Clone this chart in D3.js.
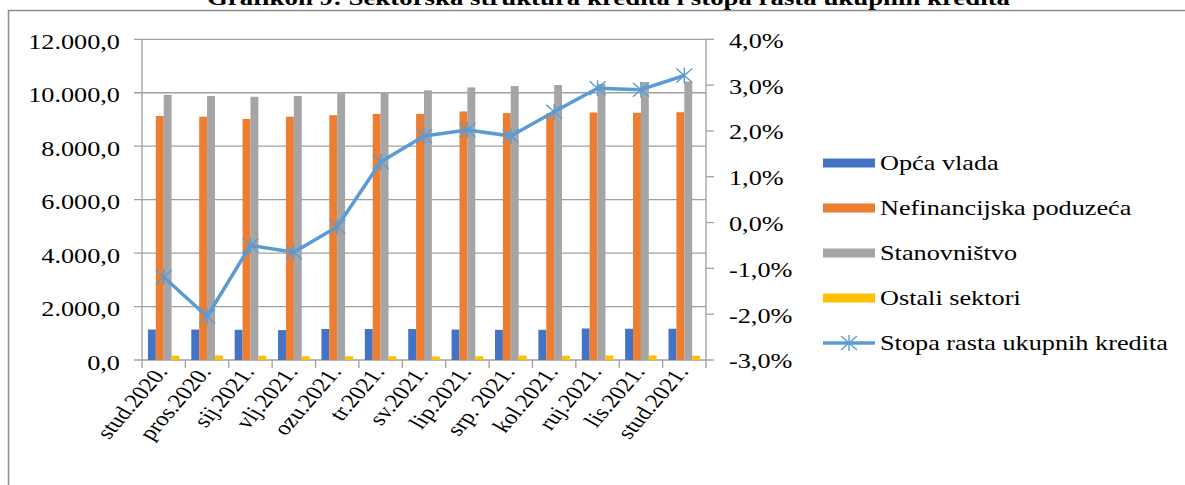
<!DOCTYPE html>
<html>
<head>
<meta charset="utf-8">
<script src="https://cdn.jsdelivr.net/npm/d3@7"></script>
<style>
  body { margin: 0; background: #fff; }
  text { font-family: "Liberation Serif", "Times New Roman", serif; fill: #000; }
</style>
</head>
<body>
<div id="chart"></div>
<script>
// data
var categories = ["stud.2020.", "pros.2020.", "sij.2021.", "vlj.2021.", "ozu.2021.", "tr.2021.", "sv.2021.",
	"lip.2021.", "srp. 2021.", "kol.2021.", "ruj.2021.", "lis.2021.", "stud.2021."];
var opcaVlada = [1140, 1140, 1130, 1120, 1160, 1160, 1160, 1140, 1130, 1130, 1180, 1170, 1170];
var nefinancijska = [9130, 9105, 9020, 9105, 9160, 9210, 9210, 9300, 9240, 9230, 9260, 9250, 9270];
var stanovnistvo = [9920, 9880, 9850, 9880, 9980, 10020, 10090, 10200, 10250, 10290, 10330, 10400, 10420];
var ostali = [160, 170, 160, 140, 140, 140, 130, 140, 170, 160, 170, 170, 160];
var stopaRasta = [-1.19, -2.05, -0.50, -0.65, -0.09, 1.32, 1.89, 2.02, 1.89, 2.42, 2.93, 2.90, 3.21];

var seriesNames = ["Opća vlada", "Nefinancijska poduzeća", "Stanovništvo", "Ostali sektori"];
var seriesColors = ["#4472C4", "#ED7D31", "#A5A5A5", "#FFC000"];
var lineName = "Stopa rasta ukupnih kredita";
var lineColor = "#5B9BD5";
var leftTicks = [0, 2000, 4000, 6000, 8000, 10000, 12000];
var rightTicks = [-3, -2, -1, 0, 1, 2, 3, 4];
var title = "Grafikon 9: Sektorska struktura kredita i stopa rasta ukupnih kredita";

var width = 1185, height = 485;
var sx = 1.25; // picture is stretched horizontally
var plot = { left: 142, right: 706, top: 39.3, bottom: 360 };
var gridColor = "#A0A0A0";

var svg = d3.select("#chart").append("svg")
	.attr("width", width)
	.attr("height", height);

svg.append("rect").attr("width", width).attr("height", height).attr("fill", "#fff");

// frame
svg.append("path")
	.attr("d", "M8.5," + height + " L8.5,10.5 L" + width + ",10.5")
	.attr("fill", "none")
	.attr("stroke", "#8c8c8c")
	.attr("stroke-width", 1.5);

// clipped title
svg.append("text")
	.attr("x", 207)
	.attr("y", 5)
	.attr("font-size", 21)
	.attr("font-weight", "bold")
	.attr("textLength", 803)
	.attr("lengthAdjust", "spacingAndGlyphs")
	.text(title);

var x0 = d3.scaleBand().domain(categories).range([plot.left, plot.right]).padding(0);
var x1 = d3.scaleBand().domain(seriesNames).range([0, x0.bandwidth()]).paddingInner(0).paddingOuter(0.75);
var yL = d3.scaleLinear().domain([0, 12000]).range([plot.bottom, plot.top]);
var yR = d3.scaleLinear().domain([-3, 4]).range([plot.bottom, plot.top]);

function fmtLeft(v) {
	var s = d3.format(",.1f")(v);
	return s.replace(/,/g, "#").replace(".", ",").replace(/#/g, ".");
}
function fmtRight(v) {
	return d3.format(".1f")(v).replace(".", ",").replace("−", "-") + "%";
}

// gridlines (extend left as ticks)
svg.append("g").selectAll("line")
	.data(leftTicks)
	.enter().append("line")
		.attr("x1", plot.left - 8)
		.attr("x2", plot.right)
		.attr("y1", function(d) { return yL(d); })
		.attr("y2", function(d) { return yL(d); })
		.attr("stroke", gridColor)
		.attr("stroke-width", 1.3);

// bars
var barData = [opcaVlada, nefinancijska, stanovnistvo, ostali];
barData.forEach(function(vals, si) {
	svg.append("g").selectAll("rect")
		.data(vals)
		.enter().append("rect")
			.attr("x", function(d, i) { return x0(categories[i]) + x1(seriesNames[si]); })
			.attr("y", function(d) { return yL(d); })
			.attr("width", x1.bandwidth())
			.attr("height", function(d) { return yL(0) - yL(d); })
			.attr("fill", seriesColors[si]);
});

// axis lines
svg.append("line")
	.attr("x1", plot.left).attr("x2", plot.left)
	.attr("y1", plot.top).attr("y2", plot.bottom)
	.attr("stroke", gridColor).attr("stroke-width", 1.3);
svg.append("line")
	.attr("x1", plot.right).attr("x2", plot.right)
	.attr("y1", plot.top).attr("y2", plot.bottom)
	.attr("stroke", gridColor).attr("stroke-width", 1.3);

// x ticks at category boundaries
var bounds = categories.map(function(c) { return x0(c); }).concat([plot.right]);
svg.append("g").selectAll("line")
	.data(bounds)
	.enter().append("line")
		.attr("x1", function(d) { return d; })
		.attr("x2", function(d) { return d; })
		.attr("y1", plot.bottom)
		.attr("y2", plot.bottom + 8)
		.attr("stroke", gridColor)
		.attr("stroke-width", 1.3);

// right ticks
svg.append("g").selectAll("line")
	.data(rightTicks)
	.enter().append("line")
		.attr("x1", plot.right)
		.attr("x2", plot.right + 8)
		.attr("y1", function(d) { return yR(d); })
		.attr("y2", function(d) { return yR(d); })
		.attr("stroke", gridColor)
		.attr("stroke-width", 1.3);

// left labels
svg.append("g").selectAll("text")
	.data(leftTicks)
	.enter().append("text")
		.attr("transform", function(d) { return "translate(120," + (yL(d) + 9.7) + ") scale(" + sx + ",1)"; })
		.attr("text-anchor", "end")
		.attr("font-size", 21)
		.text(fmtLeft);

// right labels
svg.append("g").selectAll("text")
	.data(rightTicks)
	.enter().append("text")
		.attr("transform", function(d) { return "translate(729," + (yR(d) + 8.4) + ") scale(" + sx + ",1)"; })
		.attr("font-size", 21)
		.text(function(d) { return fmtRight(d); });

// category labels, rotated
svg.append("g").selectAll("text")
	.data(categories)
	.enter().append("text")
		.attr("transform", function(d) {
			return "translate(" + (x0(d) + x0.bandwidth() / 2 + 5) + "," + (plot.bottom + 12) + ") scale(" + sx + ",1) rotate(-55)";
		})
		.attr("text-anchor", "end")
		.attr("font-size", 20)
		.text(function(d) { return d; });

// growth rate line
var line = d3.line()
	.x(function(d, i) { return x0(categories[i]) + x0.bandwidth() / 2; })
	.y(function(d) { return yR(d); });

svg.append("path")
	.datum(stopaRasta)
	.attr("d", line)
	.attr("fill", "none")
	.attr("stroke", lineColor)
	.attr("stroke-width", 3.5)
	.attr("stroke-linejoin", "round");

var starPath = "M-8,-7L8,7M-8,7L8,-7M0,-8L0,8";
svg.append("g").selectAll("path")
	.data(stopaRasta)
	.enter().append("path")
		.attr("transform", function(d, i) {
			return "translate(" + (x0(categories[i]) + x0.bandwidth() / 2) + "," + yR(d) + ")";
		})
		.attr("d", starPath)
		.attr("fill", "none")
		.attr("stroke", lineColor)
		.attr("stroke-width", 1.4);

// legend
var legendRows = seriesNames.concat([lineName]);
var legend = svg.append("g").selectAll("g")
	.data(legendRows)
	.enter().append("g")
		.attr("transform", function(d, i) { return "translate(823," + (163 + i * 45) + ")"; });

legend.each(function(d, i) {
	var g = d3.select(this);
	if (i < seriesNames.length) {
		g.append("rect")
			.attr("x", 0).attr("y", -4.5)
			.attr("width", 52).attr("height", 9)
			.attr("fill", seriesColors[i]);
	} else {
		g.append("line")
			.attr("x1", 0).attr("x2", 52)
			.attr("y1", 0).attr("y2", 0)
			.attr("stroke", lineColor)
			.attr("stroke-width", 3.5);
		g.append("path")
			.attr("transform", "translate(26,0)")
			.attr("d", starPath)
			.attr("fill", "none")
			.attr("stroke", lineColor)
			.attr("stroke-width", 1.4);
	}
	g.append("text")
		.attr("transform", "translate(57,7) scale(" + sx + ",1)")
		.attr("font-size", 21)
		.text(d);
});
</script>
</body>
</html>
